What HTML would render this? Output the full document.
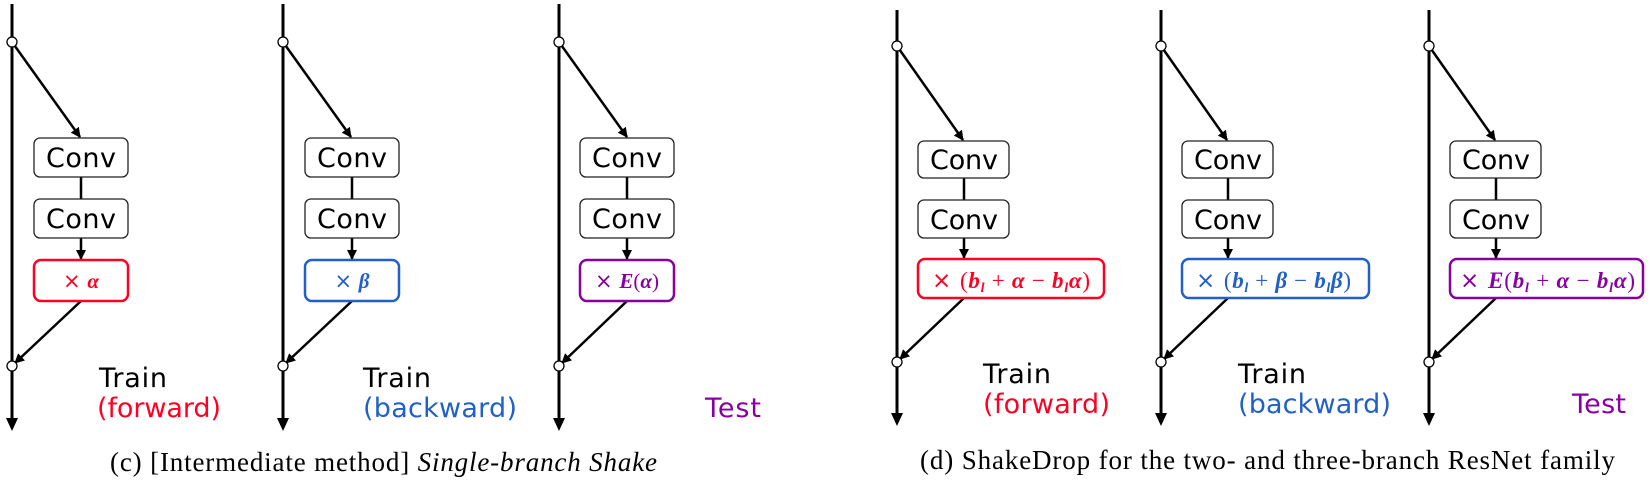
<!DOCTYPE html>
<html><head><meta charset="utf-8"><style>
html,body{margin:0;padding:0;background:#fff;}
svg{display:block;}
.s{font-family:"DejaVu Sans","Liberation Sans",sans-serif;}
.m{font-family:"Liberation Serif",serif;font-weight:bold;font-style:italic;}
</style></head><body>
<svg width="1650" height="480" viewBox="0 0 1650 480" xmlns="http://www.w3.org/2000/svg">
<defs>
<marker id="ah" markerWidth="10" markerHeight="10" refX="9" refY="5" orient="auto" markerUnits="userSpaceOnUse"><path d="M0,0 L10,5 L0,10 Z" fill="#000"/></marker>
</defs>
<g stroke="#000" stroke-width="3" fill="none">
<line x1="12" y1="4" x2="12" y2="420"/><path d="M6,418 L18,418 L12,431 Z" fill="#000" stroke="none"/>
<line x1="283" y1="4" x2="283" y2="420"/><path d="M277,418 L289,418 L283,431 Z" fill="#000" stroke="none"/>
<line x1="559" y1="4" x2="559" y2="420"/><path d="M553,418 L565,418 L559,431 Z" fill="#000" stroke="none"/>
<line x1="897" y1="10" x2="897" y2="415"/><path d="M891,413 L903,413 L897,426 Z" fill="#000" stroke="none"/>
<line x1="1161" y1="10" x2="1161" y2="415"/><path d="M1155,413 L1167,413 L1161,426 Z" fill="#000" stroke="none"/>
<line x1="1429" y1="10" x2="1429" y2="415"/><path d="M1423,413 L1435,413 L1429,426 Z" fill="#000" stroke="none"/>
</g>
<g stroke="#000" stroke-width="2.5" fill="none">
<line x1="12" y1="42" x2="80" y2="137" marker-end="url(#ah)"/>
<line x1="81" y1="301" x2="15" y2="363" marker-end="url(#ah)"/>
<line x1="283" y1="42" x2="351" y2="137" marker-end="url(#ah)"/>
<line x1="352" y1="301" x2="286" y2="363" marker-end="url(#ah)"/>
<line x1="559" y1="42" x2="627" y2="137" marker-end="url(#ah)"/>
<line x1="627" y1="301" x2="562" y2="363" marker-end="url(#ah)"/>
<line x1="81" y1="177" x2="81" y2="199"/><line x1="81" y1="238" x2="81" y2="259" marker-end="url(#ah)"/>
<line x1="352" y1="177" x2="352" y2="199"/><line x1="352" y1="238" x2="352" y2="259" marker-end="url(#ah)"/>
<line x1="627" y1="177" x2="627" y2="199"/><line x1="627" y1="238" x2="627" y2="259" marker-end="url(#ah)"/>
<line x1="897" y1="46" x2="963" y2="140" marker-end="url(#ah)"/>
<line x1="964" y1="298" x2="900" y2="359" marker-end="url(#ah)"/>
<line x1="1161" y1="46" x2="1227" y2="140" marker-end="url(#ah)"/>
<line x1="1228" y1="298" x2="1164" y2="359" marker-end="url(#ah)"/>
<line x1="1429" y1="46" x2="1495" y2="140" marker-end="url(#ah)"/>
<line x1="1496" y1="298" x2="1432" y2="359" marker-end="url(#ah)"/>
<line x1="964" y1="178" x2="964" y2="200"/><line x1="964" y1="238" x2="964" y2="258" marker-end="url(#ah)"/>
<line x1="1228" y1="178" x2="1228" y2="200"/><line x1="1228" y1="238" x2="1228" y2="258" marker-end="url(#ah)"/>
<line x1="1496" y1="178" x2="1496" y2="200"/><line x1="1496" y1="238" x2="1496" y2="258" marker-end="url(#ah)"/>
</g>
<g fill="#fff" stroke="#000" stroke-width="1.3">
<circle cx="12" cy="42" r="5"/><circle cx="12" cy="366" r="5"/>
<circle cx="283" cy="42" r="5"/><circle cx="283" cy="366" r="5"/>
<circle cx="559" cy="42" r="5"/><circle cx="559" cy="366" r="5"/>
<circle cx="897" cy="46" r="5"/><circle cx="897" cy="362" r="5"/>
<circle cx="1161" cy="46" r="5"/><circle cx="1161" cy="362" r="5"/>
<circle cx="1429" cy="46" r="5"/><circle cx="1429" cy="362" r="5"/>
</g>
<g fill="#fff" stroke="#222" stroke-width="1.3">
<rect x="34" y="138" width="94" height="39" rx="6"/><rect x="34" y="199" width="94" height="39" rx="6"/>
<rect x="305" y="138" width="94" height="39" rx="6"/><rect x="305" y="199" width="94" height="39" rx="6"/>
<rect x="580" y="138" width="94" height="39" rx="6"/><rect x="580" y="199" width="94" height="39" rx="6"/>
<rect x="918" y="141" width="91" height="37" rx="6"/><rect x="918" y="200" width="91" height="38" rx="6"/>
<rect x="1182" y="141" width="91" height="37" rx="6"/><rect x="1182" y="200" width="91" height="38" rx="6"/>
<rect x="1450" y="141" width="91" height="37" rx="6"/><rect x="1450" y="200" width="91" height="38" rx="6"/>
</g>
<g class="s" font-size="27" text-anchor="middle" fill="#000">
<text x="81" y="167" textLength="70">Conv</text><text x="81" y="228" textLength="70">Conv</text>
<text x="352" y="167" textLength="70">Conv</text><text x="352" y="228" textLength="70">Conv</text>
<text x="627" y="167" textLength="70">Conv</text><text x="627" y="228" textLength="70">Conv</text>
<text x="964" y="169" textLength="68">Conv</text><text x="964" y="229" textLength="68">Conv</text>
<text x="1228" y="169" textLength="68">Conv</text><text x="1228" y="229" textLength="68">Conv</text>
<text x="1496" y="169" textLength="68">Conv</text><text x="1496" y="229" textLength="68">Conv</text>
</g>
<g fill="#fff" stroke-width="2.5">
<rect x="34" y="260" width="94" height="41" rx="7" stroke="#ff0022"/>
<rect x="305" y="260" width="94" height="41" rx="7" stroke="#2060c8"/>
<rect x="580" y="260" width="94" height="41" rx="7" stroke="#8800a0"/>
<rect x="918" y="259" width="186" height="39" rx="7" stroke="#ff0022"/>
<rect x="1182" y="259" width="187" height="39" rx="7" stroke="#2060c8"/>
<rect x="1450" y="259" width="193" height="39" rx="7" stroke="#8800a0"/>
</g>
<g font-size="21" text-anchor="middle">
<text x="81" y="288" fill="#ff0022"><tspan class="s">× </tspan><tspan class="m">α</tspan></text>
<text x="352" y="288" fill="#2060c8"><tspan class="s">× </tspan><tspan class="m">β</tspan></text>
<text x="627" y="288" fill="#8800a0"><tspan class="s">× </tspan><tspan class="m">E</tspan><tspan font-family="Liberation Serif">(</tspan><tspan class="m">α</tspan><tspan font-family="Liberation Serif">)</tspan></text>
</g>
<g font-size="23">
<text x="932" y="288" fill="#ff0022" textLength="158"><tspan class="s">× </tspan><tspan font-family="Liberation Serif">(</tspan><tspan class="m">b<tspan font-size="14" dy="4">l</tspan></tspan><tspan dy="-4" font-family="Liberation Serif"> + </tspan><tspan class="m">α</tspan><tspan font-family="Liberation Serif"> − </tspan><tspan class="m">b<tspan font-size="14" dy="4">l</tspan><tspan dy="-4">α</tspan></tspan><tspan font-family="Liberation Serif">)</tspan></text>
<text x="1196" y="288" fill="#2060c8" textLength="155"><tspan class="s">× </tspan><tspan font-family="Liberation Serif">(</tspan><tspan class="m">b<tspan font-size="14" dy="4">l</tspan></tspan><tspan dy="-4" font-family="Liberation Serif"> + </tspan><tspan class="m">β</tspan><tspan font-family="Liberation Serif"> − </tspan><tspan class="m">b<tspan font-size="14" dy="4">l</tspan><tspan dy="-4">β</tspan></tspan><tspan font-family="Liberation Serif">)</tspan></text>
<text x="1460" y="288" fill="#8800a0" textLength="175"><tspan class="s">× </tspan><tspan class="m">E</tspan><tspan font-family="Liberation Serif">(</tspan><tspan class="m">b<tspan font-size="14" dy="4">l</tspan></tspan><tspan dy="-4" font-family="Liberation Serif"> + </tspan><tspan class="m">α</tspan><tspan font-family="Liberation Serif"> − </tspan><tspan class="m">b<tspan font-size="14" dy="4">l</tspan><tspan dy="-4">α</tspan></tspan><tspan font-family="Liberation Serif">)</tspan></text>
</g>
<g class="s" font-size="27">
<text x="99" y="387" fill="#000" textLength="68">Train</text><text x="97" y="417" fill="#ff0022" textLength="124">(forward)</text>
<text x="363" y="387" fill="#000" textLength="68">Train</text><text x="363" y="417" fill="#2060c8" textLength="154">(backward)</text>
<text x="705" y="417" fill="#8800a0" textLength="56">Test</text>
<text x="983" y="383" fill="#000" textLength="68">Train</text><text x="983" y="413" fill="#ff0022" textLength="127">(forward)</text>
<text x="1238" y="383" fill="#000" textLength="68">Train</text><text x="1238" y="413" fill="#2060c8" textLength="153">(backward)</text>
<text x="1572" y="413" fill="#8800a0" textLength="54">Test</text>
</g>
<g font-family="Liberation Serif" font-size="27" fill="#000">
<text x="110" y="471" textLength="547">(c) [Intermediate method] <tspan font-style="italic">Single-branch Shake</tspan></text>
<text x="920" y="469" textLength="695">(d) ShakeDrop for the two- and three-branch ResNet family</text>
</g>
</svg>
</body></html>
